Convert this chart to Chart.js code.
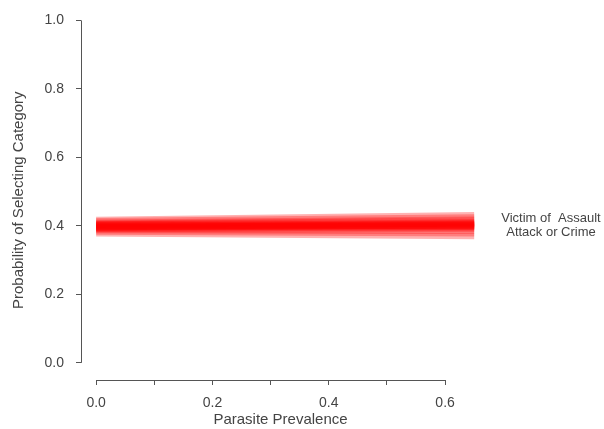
<!DOCTYPE html>
<html>
<head>
<meta charset="utf-8">
<script src="https://cdn.jsdelivr.net/npm/chart.js@4"></script>
<style>
  html, body { margin: 0; padding: 0; background: #fff; }
  #wrap { width: 604px; height: 429px; }
</style>
</head>
<body>
<div id="wrap"><canvas id="prevChart" width="604" height="429"></canvas></div>
<script>
// Posterior draws for one category: value at prevalence 0 and at the end of the range
var xStart = 0.0;
var xEnd = 0.65;
var drawStart = [0.378, 0.383, 0.387, 0.390, 0.392, 0.394, 0.396, 0.397, 0.398, 0.400,
                 0.401, 0.403, 0.405, 0.407, 0.410, 0.414, 0.418, 0.399, 0.395, 0.402,
                 0.393, 0.404];
var drawEnd   = [0.370, 0.378, 0.385, 0.390, 0.394, 0.397, 0.399, 0.401, 0.403, 0.405,
                 0.407, 0.409, 0.412, 0.415, 0.419, 0.425, 0.432, 0.396, 0.408, 0.399,
                 0.402, 0.404];
var categoryLabel = ['Victim of  Assault', 'Attack or Crime'];

var yTicks = [0.0, 0.2, 0.4, 0.6, 0.8, 1.0];
var xTicks = [0.0, 0.1, 0.2, 0.3, 0.4, 0.5, 0.6];
var xLabelled = [0.0, 0.2, 0.4, 0.6];

var axisColor = '#555';
var textColor = '#444';
var fontFamily = "'Liberation Sans', Arial, sans-serif";

var datasets = drawStart.map(function (s, i) {
    return {
        data: [{ x: xStart, y: s }, { x: xEnd, y: drawEnd[i] }],
        borderColor: 'rgba(255, 0, 0, 0.3)',
        borderWidth: 6,
        pointRadius: 0,
        fill: false
    };
});

// R-style detached axis lines plus the category label at the right end
var extras = {
    id: 'extras',
    afterDraw: function (chart) {
        var ctx = chart.ctx;
        var xs = chart.scales.x, ys = chart.scales.y;
        var area = chart.chartArea;
        ctx.save();
        ctx.strokeStyle = axisColor;
        ctx.lineWidth = 1;
        ctx.beginPath();
        ctx.moveTo(area.left + 0.5, ys.getPixelForValue(0));
        ctx.lineTo(area.left + 0.5, ys.getPixelForValue(1));
        ctx.moveTo(xs.getPixelForValue(0), area.bottom + 0.5);
        ctx.lineTo(xs.getPixelForValue(0.6), area.bottom + 0.5);
        ctx.stroke();

        var mid = drawEnd.reduce(function (a, b) { return a + b; }, 0) / drawEnd.length;
        var cy = ys.getPixelForValue(mid);
        ctx.fillStyle = textColor;
        ctx.font = '13px ' + fontFamily;
        ctx.textAlign = 'center';
        ctx.textBaseline = 'middle';
        ctx.fillText(categoryLabel[0], 551, cy - 7);
        ctx.fillText(categoryLabel[1], 551, cy + 7);
        ctx.restore();
    }
};

var ctx = document.getElementById('prevChart').getContext('2d');
var prevChart = new Chart(ctx, {
    type: 'line',
    data: { datasets: datasets },
    options: {
        responsive: false,
        animation: false,
        layout: { padding: { top: 19, right: 124, bottom: 0, left: 10 } },
        plugins: { legend: { display: false }, tooltip: { enabled: false } },
        scales: {
            x: {
                type: 'linear',
                min: -0.026,
                max: 0.66,
                afterBuildTicks: function (scale) {
                    scale.ticks = xTicks.map(function (v) { return { value: v }; });
                },
                afterFit: function (scale) { scale.height = 49; },
                border: { display: false },
                grid: { drawOnChartArea: false, drawTicks: true, tickLength: 5, color: axisColor },
                ticks: {
                    autoSkip: false,
                    maxRotation: 0,
                    padding: 10,
                    color: textColor,
                    font: { size: 14, family: fontFamily },
                    callback: function (v) {
                        return xLabelled.some(function (t) { return Math.abs(t - v) < 1e-9; }) ? v.toFixed(1) : '';
                    }
                },
                title: {
                    display: true,
                    text: 'Parasite Prevalence',
                    color: textColor,
                    font: { size: 15, family: fontFamily },
                    padding: { top: 2, bottom: 0 }
                }
            },
            y: {
                type: 'linear',
                min: -0.05,
                max: 1.0,
                afterBuildTicks: function (scale) {
                    scale.ticks = yTicks.map(function (v) { return { value: v }; });
                },
                afterFit: function (scale) { scale.width = 71; },
                border: { display: false },
                grid: { drawOnChartArea: false, drawTicks: true, tickLength: 5, color: axisColor },
                ticks: {
                    padding: 12,
                    color: textColor,
                    font: { size: 14, family: fontFamily },
                    callback: function (v) { return v.toFixed(1); }
                },
                title: {
                    display: true,
                    text: 'Probability of Selecting Category',
                    color: textColor,
                    font: { size: 15, family: fontFamily },
                    padding: { top: 0, bottom: 0 }
                }
            }
        }
    },
    plugins: [extras]
});
</script>
</body>
</html>
